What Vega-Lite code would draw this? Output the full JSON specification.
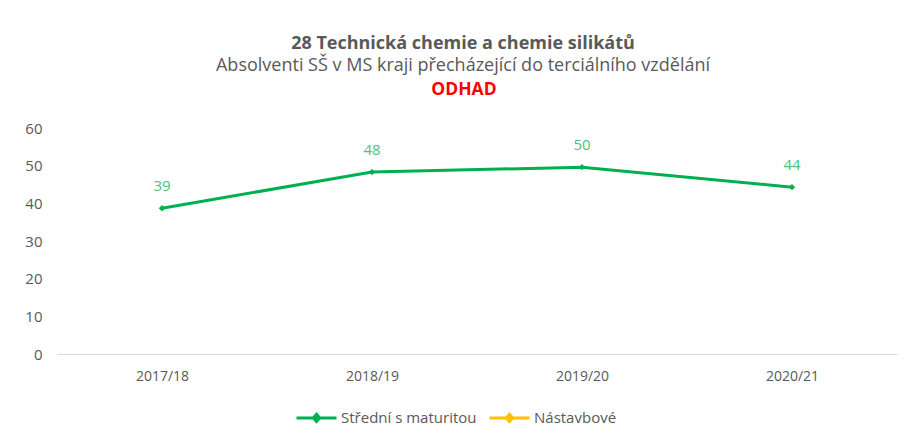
{
  "$schema": "https://vega.github.io/schema/vega-lite/v6.json",
  "width": 840,
  "height": 226,
  "autosize": "none",
  "padding": {"left": 57, "top": 128, "right": 10, "bottom": 87},
  "background": "white",
  "title": {
    "text": "28 Technická chemie a chemie silikátů",
    "subtitle": "Absolventi SŠ v MS kraji  přecházející do terciálního vzdělání",
    "anchor": "middle",
    "frame": "group",
    "dx": -14,
    "offset": 6,
    "font": "Open Sans",
    "fontSize": 18,
    "fontWeight": "bold",
    "color": "#595959",
    "subtitleFont": "Open Sans",
    "subtitleFontSize": 18,
    "subtitleColor": "#595959",
    "subtitlePadding": 4
  },
  "config": {
    "view": {"stroke": null},
    "axis": {"labelFont": "Open Sans", "labelFontSize": 14, "labelColor": "#595959", "ticks": false, "grid": false, "title": null, "labelOverlap": false}
  },
  "datasets": {
    "main": [
      {"rok": "2017/18", "hodnota": 38.7, "typ": "Střední s maturitou"},
      {"rok": "2018/19", "hodnota": 48.3, "typ": "Střední s maturitou"},
      {"rok": "2019/20", "hodnota": 49.6, "typ": "Střední s maturitou"},
      {"rok": "2020/21", "hodnota": 44.3, "typ": "Střední s maturitou"}
    ],
    "note": [{"t": "ODHAD", "hodnota": 70}]
  },
  "encoding": {
    "x": {"field": "rok", "type": "nominal", "sort": null, "scale": {"paddingInner": 0, "paddingOuter": 0}, "axis": {"labelAngle": 0, "domain": true, "domainColor": "#D9D9D9", "domainWidth": 1, "labelPadding": 15}},
    "y": {"field": "hodnota", "type": "quantitative", "scale": {"domain": [0, 60], "nice": false}, "axis": {"values": [0, 10, 20, 30, 40, 50, 60], "domain": false, "labelPadding": 15, "labelFontSize": 15, "labelOverlap": false}}
  },
  "layer": [
    {
      "data": {"name": "main"},
      "mark": {"type": "line", "strokeWidth": 3, "point": {"shape": "diamond", "filled": true, "size": 40}},
      "encoding": {
        "color": {
          "field": "typ", "type": "nominal",
          "scale": {"domain": ["Střední s maturitou", "Nástavbové"], "range": ["#00B050", "#FFC000"]},
          "legend": {
            "title": null, "orient": "none", "direction": "horizontal",
            "legendX": 238, "legendY": 268,
            "symbolType": "M-1,0H1M-0.16,0L0,-0.18L0.16,0L0,0.18Z",
            "symbolSize": 1600, "symbolStrokeWidth": 3,
            "labelFont": "Open Sans", "labelFontSize": 15, "labelColor": "#595959",
            "labelOffset": 3, "columnPadding": 6
          }
        }
      }
    },
    {
      "data": {"name": "main"},
      "mark": {"type": "text", "baseline": "bottom", "dy": -14, "font": "Open Sans", "fontSize": 15, "color": "#4CC27A"},
      "encoding": {
        "text": {"field": "hodnota", "type": "quantitative", "format": ".0f"}
      }
    },
    {
      "data": {"name": "note"},
      "mark": {"type": "text", "baseline": "middle", "dx": -13, "font": "Open Sans", "fontSize": 17.5, "fontWeight": "bold", "color": "#FF0000", "clip": false},
      "encoding": {
        "x": {"value": {"expr": "width / 2"}},
        "text": {"field": "t"}
      }
    }
  ]
}
